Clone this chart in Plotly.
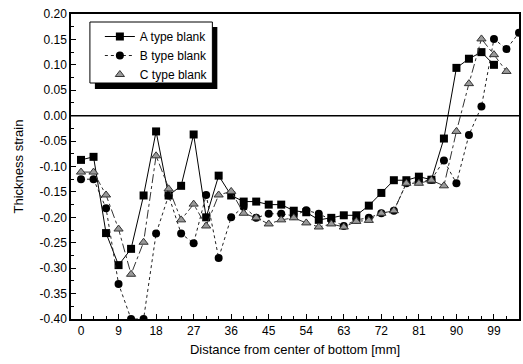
import plotly.graph_objects as go

x_a = [0, 3, 6, 9, 12, 15, 18, 21, 24, 27, 30, 33, 36, 39, 42, 45, 48, 51, 54, 57,
       60, 63, 66, 69, 72, 75, 78, 81, 84, 87, 90, 93, 96, 99]
a_type = [-0.087, -0.081, -0.231, -0.294, -0.262, -0.157, -0.031, -0.157, -0.138, -0.037,
          -0.200, -0.118, -0.157, -0.169, -0.169, -0.175, -0.175, -0.187, -0.190, -0.205,
          -0.201, -0.196, -0.196, -0.177, -0.152, -0.127, -0.127, -0.120, -0.126, -0.045,
          0.094, 0.112, 0.125, 0.100]

x_b = [0, 3, 6, 9, 12, 15, 18, 21, 24, 27, 30, 33, 36, 39, 42, 45, 48, 51, 54, 57,
       60, 63, 66, 69, 72, 75, 78, 81, 84, 87, 90, 93, 96, 99, 102, 105]
b_type = [-0.125, -0.125, -0.182, -0.331, -0.400, -0.400, -0.232, -0.157, -0.232, -0.251,
          -0.156, -0.280, -0.200, -0.179, -0.201, -0.193, -0.193, -0.197, -0.186, -0.193,
          -0.205, -0.217, -0.205, -0.201, -0.192, -0.187, -0.133, -0.129, -0.126, -0.088,
          -0.133, -0.038, 0.018, 0.151, 0.131, 0.163]

x_c = [0, 3, 6, 9, 12, 15, 18, 21, 24, 27, 30, 33, 36, 39, 42, 45, 48, 51, 54, 57,
       60, 63, 66, 69, 72, 75, 78, 81, 84, 87, 90, 93, 96, 99, 102]
c_type = [-0.111, -0.111, -0.156, -0.223, -0.312, -0.249, -0.079, -0.144, -0.205, -0.174,
          -0.217, -0.156, -0.149, -0.192, -0.201, -0.213, -0.205, -0.201, -0.211, -0.219,
          -0.213, -0.219, -0.208, -0.206, -0.192, -0.187, -0.133, -0.133, -0.127, -0.138,
          -0.031, 0.063, 0.151, 0.120, 0.087]

x_ticks = [0, 9, 18, 27, 36, 45, 54, 63, 72, 81, 90, 99]
y_ticks = [0.20, 0.15, 0.10, 0.05, 0.00, -0.05, -0.10, -0.15, -0.20, -0.25, -0.30, -0.35, -0.40]
y_labels = ["%.2f" % v for v in y_ticks]

FONT = "Liberation Sans, Arial, sans-serif"
L, R, T, B = 71, 2, 14, 45
W, H = 523, 364
PW, PH = W - L - R, H - T - B


def px_x(p):
    return (p - L) / PW


def px_y(p):
    return (H - B - p) / PH


fig = go.Figure()
fig.add_trace(go.Scatter(
    x=x_a, y=a_type, name="A type blank", mode="lines+markers",
    line=dict(color="black", width=1),
    marker=dict(symbol="square", size=8, color="black")))
fig.add_trace(go.Scatter(
    x=x_b, y=b_type, name="B type blank", mode="lines+markers",
    line=dict(color="#222", width=1, dash="dot"),
    marker=dict(symbol="circle", size=8, color="black")))
fig.add_trace(go.Scatter(
    x=x_c, y=c_type, name="C type blank", mode="lines+markers", showlegend=False,
    line=dict(color="#333", width=1, dash="dashdot"),
    marker=dict(symbol="triangle-up", size=8, color="#999",
                line=dict(color="#333", width=1))))
fig.add_trace(go.Scatter(
    x=[None], y=[None], name="C type blank", mode="markers",
    marker=dict(symbol="triangle-up", size=8, color="#999",
                line=dict(color="#333", width=1))))

# zero line
fig.add_hline(y=0, line=dict(color="black", width=1.5))

# legend shadow and box
fig.add_shape(type="rect", xref="paper", yref="paper",
              x0=px_x(95), x1=px_x(218), y0=px_y(89), y1=px_y(27),
              fillcolor="black", line=dict(width=0), layer="above")
fig.add_shape(type="rect", xref="paper", yref="paper",
              x0=px_x(90), x1=px_x(213), y0=px_y(83), y1=px_y(22),
              fillcolor="white", line=dict(color="black", width=1), layer="above")

fig.update_layout(
    width=W, height=H,
    margin=dict(l=L, r=R, t=T, b=B),
    paper_bgcolor="white", plot_bgcolor="white",
    font=dict(family=FONT, size=12, color="black"),
    showlegend=True,
    legend=dict(x=px_x(100), y=px_y(22), xanchor="left", yanchor="top",
                bgcolor="rgba(0,0,0,0)", borderwidth=0,
                font=dict(family=FONT, size=12, color="black"),
                tracegroupgap=0),
    xaxis=dict(range=[-2.4, 105], tickmode="array", tickvals=x_ticks,
               ticks="inside", ticklen=5, tickwidth=1, tickcolor="black",
               minor=dict(dtick=3, tick0=0, ticks="inside", ticklen=3, tickcolor="black"),
               showline=True, linecolor="black", linewidth=1.5, mirror=True,
               showgrid=False, zeroline=False,
               tickfont=dict(family=FONT, size=12),
               title=dict(text="Distance from center of bottom [mm]",
                          font=dict(family=FONT, size=13), standoff=8)),
    yaxis=dict(range=[-0.40, 0.20], tickmode="array", tickvals=y_ticks, ticktext=y_labels,
               ticks="inside", ticklen=5, tickwidth=1, tickcolor="black",
               minor=dict(dtick=0.025, tick0=0, ticks="inside", ticklen=3, tickcolor="black"),
               showline=True, linecolor="black", linewidth=1.5, mirror=True,
               showgrid=False, zeroline=False,
               tickfont=dict(family=FONT, size=12),
               title=dict(text="Thickness strain", font=dict(family=FONT, size=13), standoff=13)),
)

fig.write_html("out.html")
